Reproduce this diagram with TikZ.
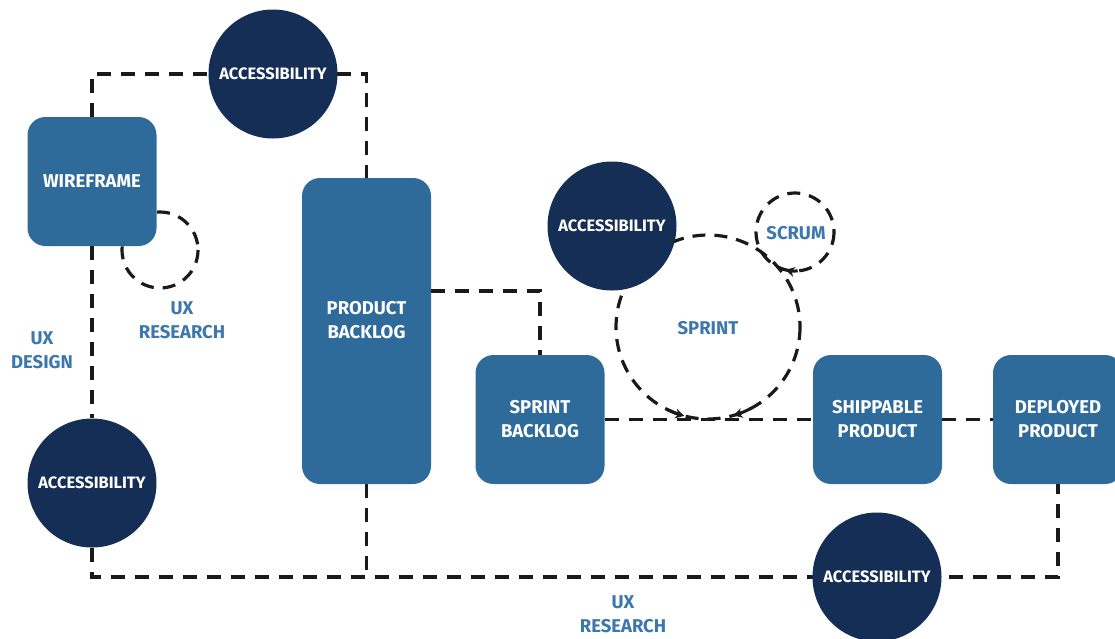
\documentclass[tikz,border=0pt]{standalone}
\usepackage{fontspec}
\setmainfont{Fira Sans}
\usetikzlibrary{arrows.meta}
\definecolor{boxblue}{HTML}{2E6A9A}
\definecolor{navy}{HTML}{152E56}
\definecolor{lblue}{HTML}{3C77AD}
\definecolor{dashc}{HTML}{1A1A1A}
\pgfdeclarelayer{bg}
\pgfsetlayers{bg,main}
\begin{document}
\begin{tikzpicture}[x=1pt,y=-1pt,
  txt/.style={font=\fontsize{18.5}{24}\selectfont\bfseries, align=center},
  box/.style={txt, fill=boxblue, rounded corners=18pt, text=white, inner sep=0pt,
              minimum width=129pt, minimum height=129pt},
  acc/.style={font=\fontsize{16.5}{20}\selectfont\bfseries, circle, fill=navy, text=white, inner sep=0pt, minimum size=129pt},
  conn/.style={draw=dashc, line width=3.5pt, dash pattern=on 14pt off 10pt},
  ring/.style={draw=dashc, line width=3.2pt, dash pattern=on 13pt off 9pt},
  lbl/.style={txt, text=lblue},
  tipc/.style={draw=dashc, line width=3pt, -{Stealth[length=9pt,width=10pt]}}
]
\useasboundingbox (0,0) rectangle (1115,638);

% boxes
\node[box] (wire) at (92,181.5) {WIREFRAME};
\node[box, minimum height=306pt] (pb) at (366.5,331) {};
\node[txt, text=white] (pbtext) at (366.5,320) {PRODUCT\\BACKLOG};
\node[box] (sb) at (540,419.5) {SPRINT\\BACKLOG};
\node[box] (ship) at (877.5,419.5) {SHIPPABLE\\PRODUCT};
\node[box, minimum width=130pt] (dep) at (1058,419.5) {DEPLOYED\\PRODUCT};

% accessibility circles
\node[acc] (accT) at (273,74) {ACCESSIBILITY};
\node[acc] (accL) at (92,483) {ACCESSIBILITY};
\node[acc] (accM) at (612,226) {ACCESSIBILITY};
\node[acc] (accB) at (877,577) {ACCESSIBILITY};

% loops
\node[circle, minimum size=184pt, inner sep=0pt] (sprint) at (708,327) {};
\node[lbl] (sprintlbl) at (708,328) {SPRINT};
\node[circle, minimum size=78pt, inner sep=0pt] (scrum) at (795,232) {};
\node[lbl] (scrumlbl) at (796,233) {SCRUM};
\node[circle, minimum size=76pt, inner sep=0pt] (uxr) at (160,250) {};

% labels
\node[lbl] (uxres1) at (182,320) {UX\\RESEARCH};
\node[lbl] (uxdes) at (42,350) {UX\\DESIGN};
\node[lbl] (uxres2) at (623,614) {UX\\RESEARCH};

\begin{pgfonlayer}{bg}
  \fill[white] (0,0) rectangle (1115,638);
  \draw[conn] (wire.north) |- (accT.center) -| (pb.north);
  \draw[conn] (wire.south) -- (accL.north);
  \draw[conn] (accL.south) |- (accB.center);
  \draw[conn] (accB.center) -| (dep.south);
  \draw[conn] (pb.south) -- (pb.south |- accB.center);
  \draw[conn] ([yshift=40pt]pb.east) -| (sb.north);
  \draw[conn] (sb.east) -- (ship.west);
  \draw[conn] (ship.east) -- (dep.west);
  \draw[ring] (uxr) circle[radius=38];
  \draw[ring] (sprint) circle[radius=92];
  \draw[ring] (scrum) circle[radius=39];
\end{pgfonlayer}

% arrow tips on the loops
\draw[tipc] (sprint.center) ++(116:92) arc[start angle=116, end angle=105, radius=92];
\draw[tipc] (sprint.center) ++(62:92) arc[start angle=62, end angle=74, radius=92];
\draw[tipc] (scrum.center) ++(86:39) arc[start angle=86, end angle=104, radius=39];
\end{tikzpicture}
\end{document}
